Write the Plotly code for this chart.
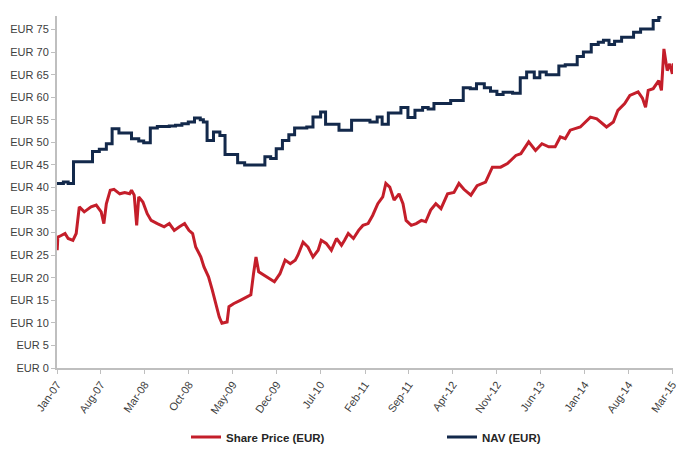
import plotly.graph_objects as go

# Share price (EUR) readings
share_dates = [
    "2007-01-02", "2007-01-05", "2007-01-19", "2007-02-09", "2007-02-24", "2007-03-19",
    "2007-04-04", "2007-04-19", "2007-05-13", "2007-06-15", "2007-07-10", "2007-08-03",
    "2007-08-16", "2007-08-28", "2007-09-16", "2007-10-04", "2007-11-01", "2007-11-25",
    "2007-12-19", "2007-12-28", "2008-01-10", "2008-01-22", "2008-02-01", "2008-02-21",
    "2008-03-13", "2008-04-01", "2008-05-01", "2008-06-03", "2008-06-28", "2008-07-22",
    "2008-08-16", "2008-09-10", "2008-10-01", "2008-10-19", "2008-11-03", "2008-11-28",
    "2008-12-13", "2009-01-04", "2009-01-22", "2009-02-09", "2009-02-25", "2009-03-10",
    "2009-04-04", "2009-04-13", "2009-05-07", "2009-06-07", "2009-07-10", "2009-07-28",
    "2009-08-10", "2009-08-22", "2009-09-04", "2009-09-28", "2009-10-22", "2009-11-19",
    "2009-12-16", "2010-01-10", "2010-02-04", "2010-02-28", "2010-03-13", "2010-04-07",
    "2010-05-01", "2010-05-25", "2010-06-19", "2010-07-04", "2010-07-28", "2010-08-22",
    "2010-09-16", "2010-10-10", "2010-10-25", "2010-11-12", "2010-12-07", "2011-01-01",
    "2011-01-22", "2011-02-16", "2011-03-10", "2011-04-04", "2011-04-28", "2011-05-13",
    "2011-06-01", "2011-06-22", "2011-07-16", "2011-08-04", "2011-08-19", "2011-09-13",
    "2011-10-07", "2011-11-01", "2011-11-22", "2011-12-16", "2012-01-10", "2012-02-04",
    "2012-03-07", "2012-04-07", "2012-05-01", "2012-05-25", "2012-06-28", "2012-07-28",
    "2012-09-07", "2012-10-10", "2012-11-19", "2012-12-22", "2013-02-01", "2013-02-25",
    "2013-04-04", "2013-05-07", "2013-06-07", "2013-07-10", "2013-08-10", "2013-09-04",
    "2013-09-28", "2013-10-22", "2013-12-10", "2014-01-28", "2014-02-28", "2014-04-16",
    "2014-05-19", "2014-06-10", "2014-07-13", "2014-08-07", "2014-09-16", "2014-10-07",
    "2014-10-22", "2014-11-04", "2014-11-28", "2014-12-25", "2015-01-07", "2015-01-19",
    "2015-02-04", "2015-02-16", "2015-03-01", "2015-03-06",
]
share_values = [
    26.1, 29.0, 29.3, 29.8, 28.7, 28.3,
    29.8, 35.7, 34.6, 35.7, 36.1, 34.6,
    32.0, 36.4, 39.4, 39.6, 38.6, 38.9,
    38.6, 39.4, 38.3, 31.6, 37.9, 36.8,
    34.2, 32.7, 32.0, 31.3, 32.0, 30.5,
    31.3, 32.0, 30.5, 29.8, 26.8, 24.6,
    22.4, 20.2, 17.3, 14.3, 11.3, 9.9,
    10.2, 13.6, 14.3, 15.0, 15.8, 16.2,
    20.9, 24.6, 21.3, 20.6, 19.8, 19.1,
    20.9, 23.9, 23.1, 23.9, 25.0, 27.9,
    26.8, 24.6, 26.1, 28.3, 27.6, 26.1,
    28.7, 27.2, 28.3, 29.8, 28.7, 30.5,
    31.6, 32.0, 33.8, 36.4, 37.9, 40.9,
    40.1, 37.2, 38.6, 36.4, 32.7, 31.6,
    32.0, 32.7, 32.4, 35.0, 36.4, 35.3,
    38.6, 38.9, 40.9, 39.6, 38.3, 40.4,
    41.2, 44.5, 44.5, 45.3, 47.1, 47.5,
    50.1, 48.2, 49.7, 49.0, 49.0, 51.2,
    50.8, 52.7, 53.4, 55.6, 55.2, 53.4,
    54.5, 57.1, 58.6, 60.4, 61.2, 59.8,
    57.8, 61.5, 61.9, 63.7, 61.5, 70.7,
    65.9, 67.4, 65.2, 67.5,
]

# NAV (EUR) readings (step changes)
nav_dates = [
    "2007-01-01", "2007-02-01", "2007-02-24", "2007-03-22", "2007-06-22", "2007-07-25",
    "2007-08-28", "2007-09-25", "2007-10-28", "2007-12-28", "2008-02-01", "2008-02-25",
    "2008-03-28", "2008-05-01", "2008-06-28", "2008-07-28", "2008-08-28", "2008-09-28",
    "2008-10-28", "2008-11-25", "2008-12-10", "2008-12-28", "2009-01-28", "2009-02-28",
    "2009-03-25", "2009-05-25", "2009-06-28", "2009-10-04", "2009-11-01", "2009-11-28",
    "2009-12-28", "2010-01-28", "2010-02-25", "2010-04-25", "2010-05-25", "2010-07-01",
    "2010-07-25", "2010-09-28", "2010-11-28", "2011-02-25", "2011-04-01", "2011-04-25",
    "2011-05-25", "2011-07-25", "2011-08-28", "2011-10-01", "2011-11-07", "2011-12-04",
    "2012-01-01", "2012-03-22", "2012-05-22", "2012-06-25", "2012-07-25", "2012-09-01",
    "2012-10-01", "2012-11-01", "2012-12-01", "2013-01-16", "2013-02-22", "2013-03-25",
    "2013-05-01", "2013-05-28", "2013-06-28", "2013-08-28", "2013-09-28", "2013-11-25",
    "2013-12-25", "2014-02-01", "2014-03-07", "2014-04-01", "2014-04-28", "2014-05-25",
    "2014-06-28", "2014-08-25", "2014-09-28", "2014-11-28", "2014-12-25", "2015-01-07",
]
nav_values = [
    40.9, 41.2, 40.9, 45.7, 48.0, 48.5,
    49.7, 53.0, 52.1, 50.8, 50.3, 49.9,
    53.2, 53.5, 53.6, 53.8, 54.1, 54.5,
    55.4, 55.0, 54.5, 50.4, 52.3, 51.5,
    47.3, 45.5, 45.0, 46.8, 46.4, 48.6,
    50.4, 51.7, 53.2, 53.4, 55.6, 56.7,
    54.0, 52.7, 54.9, 54.5, 55.6, 54.0,
    56.5, 57.7, 55.5, 57.1, 57.7, 57.4,
    58.6, 59.3, 62.1, 61.9, 63.0, 62.1,
    61.3, 60.6, 61.1, 60.9, 64.3, 65.6,
    64.3, 65.6, 65.0, 66.9, 67.2, 69.0,
    70.0, 71.7, 72.2, 72.6, 71.7, 72.4,
    73.3, 74.4, 75.1, 77.0, 77.7, 77.7,
]

y_tick_vals = [0, 5, 10, 15, 20, 25, 30, 35, 40, 45, 50, 55, 60, 65, 70, 75]
y_tick_text = ["EUR " + str(v) for v in y_tick_vals]

RED = "#C41E2A"
NAVY = "#13294B"
AXIS = "#BFBFBF"
FONT = "Liberation Sans, Arial, sans-serif"

fig = go.Figure()
fig.add_trace(go.Scatter(
    x=share_dates, y=share_values, mode="lines", name="Share Price (EUR)",
    line=dict(color=RED, width=3), legend="legend",
))
fig.add_trace(go.Scatter(
    x=nav_dates, y=nav_values, mode="lines", name="NAV (EUR)",
    line=dict(color=NAVY, width=3, shape="hv"), legend="legend2",
))

legend_font = dict(family=FONT, size=11.5, color="#262626", weight="bold")
PLOT_W = 678 - 57 - 5
LEG_Y = (368 - 437) / 352

fig.update_layout(
    width=678, height=457,
    margin=dict(l=57, r=5, t=16, b=89, autoexpand=False),
    paper_bgcolor="white", plot_bgcolor="white",
    font=dict(family=FONT, size=11, color="#404040"),
    showlegend=True,
    legend=dict(
        orientation="h",
        x=(186 - 57) / PLOT_W, xanchor="left", y=LEG_Y, yanchor="middle",
        font=legend_font, itemwidth=30, bgcolor="rgba(0,0,0,0)",
    ),
    legend2=dict(
        orientation="h",
        x=(442 - 57) / PLOT_W, xanchor="left", y=LEG_Y, yanchor="middle",
        font=legend_font, itemwidth=30, bgcolor="rgba(0,0,0,0)",
    ),
    xaxis=dict(
        type="date",
        range=["2007-01-01", "2015-03-04"],
        tick0="2007-01-01", dtick="M7", tickformat="%b-%y",
        tickangle=-55, ticklabeloverflow="allow",
        showgrid=False, zeroline=False,
        showline=True, linecolor=AXIS, linewidth=2,
        ticks="outside", ticklen=4, tickcolor=AXIS, tickwidth=1,
        tickfont=dict(family=FONT, size=11, color="#404040"),
    ),
    yaxis=dict(
        range=[0, 78],
        tickvals=y_tick_vals, ticktext=y_tick_text,
        showgrid=False, zeroline=False,
        showline=True, linecolor=AXIS, linewidth=2,
        ticks="outside", ticklen=4, tickcolor=AXIS, tickwidth=1,
        tickfont=dict(family=FONT, size=11, color="#404040"),
    ),
)

fig.write_html(
    "out.html",
    config={"displayModeBar": False},
    post_script="document.body.style.margin='0';",
)
